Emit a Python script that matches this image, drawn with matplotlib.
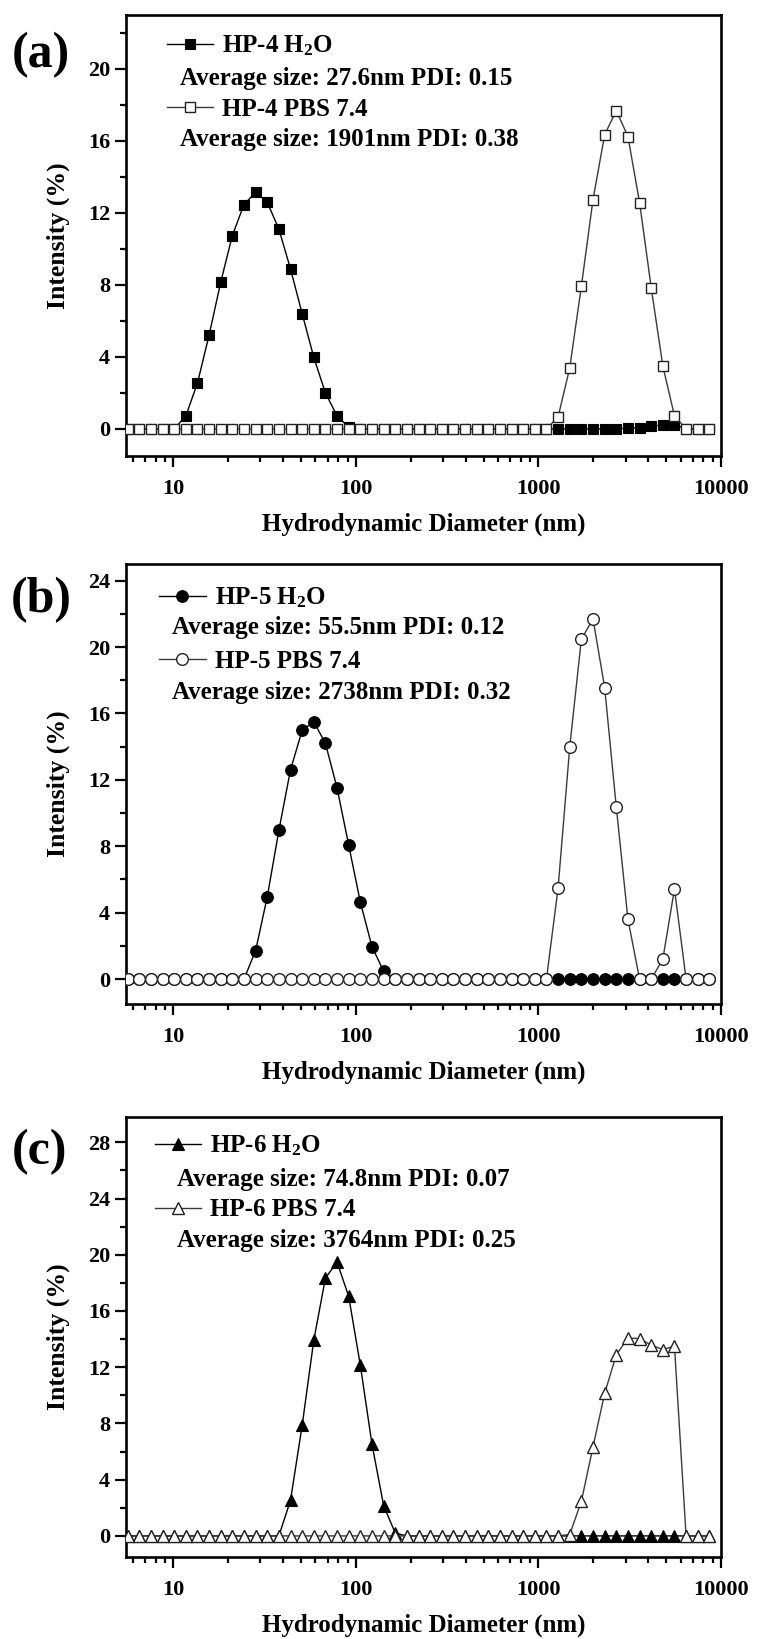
import matplotlib
matplotlib.use("Agg")
import matplotlib.pyplot as plt
from matplotlib.ticker import FixedLocator, FixedFormatter, LogLocator, NullFormatter, MultipleLocator

plt.rcParams['font.family'] = ['Liberation Serif', 'DejaVu Serif']
plt.rcParams['font.weight'] = 'bold'
plt.rcParams['mathtext.fontset'] = 'custom'
plt.rcParams['mathtext.rm'] = 'Liberation Serif:bold'
plt.rcParams['mathtext.bf'] = 'Liberation Serif:bold'
plt.rcParams['mathtext.it'] = 'Liberation Serif:bold:italic'

# ---- data -------------------------------------------------------------
diameter_nm = [5.615, 6.503, 7.531, 8.721, 10.10, 11.70, 13.54, 15.69, 18.17, 21.04,
               24.36, 28.21, 32.67, 37.84, 43.82, 50.75, 58.77, 68.06, 78.82, 91.28,
               105.7, 122.4, 141.8, 164.2, 190.1, 220.2, 255.0, 295.3, 342.0, 396.1,
               458.7, 531.2, 615.1, 712.4, 825.0, 955.4, 1106, 1281, 1484, 1718,
               1990, 2305, 2669, 3091, 3580, 4145, 4801, 5560, 6439, 7456, 8635]

hp4_h2o = [0, 0, 0, 0, 0, 0.73, 2.54, 5.22, 8.16, 10.75,
           12.47, 13.15, 12.6, 11.1, 8.89, 6.41, 3.98, 2.0, 0.73, 0.1,
           0, 0, 0, 0, 0, 0, 0, 0, 0, 0,
           0, 0, 0, 0, 0, 0, 0, 0, 0, 0,
           0, 0, 0.02, 0.04, 0.08, 0.15, 0.22, 0.25, 0, 0, 0]
hp4_pbs = [0, 0, 0, 0, 0, 0, 0, 0, 0, 0,
           0, 0, 0, 0, 0, 0, 0, 0, 0, 0,
           0, 0, 0, 0, 0, 0, 0, 0, 0, 0,
           0, 0, 0, 0, 0, 0, 0, 0.67, 3.4, 7.93,
           12.75, 16.35, 17.69, 16.25, 12.58, 7.86, 3.5, 0.73, 0, 0, 0]

hp5_h2o = [0, 0, 0, 0, 0, 0, 0, 0, 0, 0,
           0, 1.71, 4.95, 8.96, 12.61, 14.98, 15.5, 14.2, 11.51, 8.07,
           4.64, 1.96, 0.47, 0, 0, 0, 0, 0, 0, 0,
           0, 0, 0, 0, 0, 0, 0, 0, 0, 0,
           0, 0, 0, 0, 0, 0, 0, 0, 0, 0, 0]
hp5_pbs = [0, 0, 0, 0, 0, 0, 0, 0, 0, 0,
           0, 0, 0, 0, 0, 0, 0, 0, 0, 0,
           0, 0, 0, 0, 0, 0, 0, 0, 0, 0,
           0, 0, 0, 0, 0, 0, 0, 5.49, 13.99, 20.47,
           21.69, 17.56, 10.36, 3.61, 0, 0, 1.2, 5.43, 0, 0, 0]

hp6_h2o = [0, 0, 0, 0, 0, 0, 0, 0, 0, 0,
           0, 0, 0, 0, 2.54, 7.86, 13.92, 18.34, 19.48, 17.04,
           12.15, 6.54, 2.16, 0.2, 0, 0, 0, 0, 0, 0,
           0, 0, 0, 0, 0, 0, 0, 0, 0, 0,
           0, 0, 0, 0, 0, 0, 0, 0, 0, 0, 0]
hp6_pbs = [0, 0, 0, 0, 0, 0, 0, 0, 0, 0,
           0, 0, 0, 0, 0, 0, 0, 0, 0, 0,
           0, 0, 0, 0, 0, 0, 0, 0, 0, 0,
           0, 0, 0, 0, 0, 0, 0, 0, 0.1, 2.46,
           6.34, 10.14, 12.88, 14.08, 14.03, 13.57, 13.26, 13.49, 0, 0, 0]

x_ticks = [10, 100, 1000, 10000]
x_tick_labels = ['10', '100', '1000', '10000']

panel_letters = ['(a)', '(b)', '(c)']
names = ['HP-4', 'HP-5', 'HP-6']
avg_h2o = ['Average size: 27.6nm PDI: 0.15', 'Average size: 55.5nm PDI: 0.12', 'Average size: 74.8nm PDI: 0.07']
avg_pbs = ['Average size: 1901nm PDI: 0.38', 'Average size: 2738nm PDI: 0.32', 'Average size: 3764nm PDI: 0.25']
h2o_series = [hp4_h2o, hp5_h2o, hp6_h2o]
pbs_series = [hp4_pbs, hp5_pbs, hp6_pbs]
y_tops = [23, 25, 29.8]
markers = ['s', 'o', '^']
marker_sizes = [7.6, 8.4, 9.0]

# ---- layout (pixels) --------------------------------------------------
W, H = 758, 1639
fig = plt.figure(figsize=(W / 100, H / 100), dpi=100)
fig.patch.set_facecolor('white')

boxes = [(126, 15, 721, 456), (126, 564, 721, 1004), (126, 1117, 721, 1557)]
letter_pos = [(41, 55), (41, 600), (40, 1152)]
legend_anchor = [(0.069, 0.958), (0.056, 0.951), (0.049, 0.962)]
avg_x = [0.091, 0.078, 0.086]
avg_y = [(0.857, 0.718), (0.855, 0.708), (0.859, 0.719)]

for k in range(3):
    l, t, r, b = boxes[k]
    ax = fig.add_axes([l / W, 1 - b / H, (r - l) / W, (b - t) / H])
    ln1, = ax.plot(diameter_nm, h2o_series[k], color='black', lw=1.0,
                   marker=markers[k], ms=marker_sizes[k], mfc='black', mec='black',
                   mew=0.8, zorder=3, clip_on=True)
    ln2, = ax.plot(diameter_nm, pbs_series[k], color='#3a3a3a', lw=1.0,
                   marker=markers[k], ms=marker_sizes[k], mfc='white', mec='#222222',
                   mew=1.0, zorder=4, clip_on=True)
    ax.set_xscale('log')
    ax.set_xlim(5.5, 10000)
    ax.set_ylim(-1.5, y_tops[k])
    ax.xaxis.set_major_locator(FixedLocator(x_ticks))
    ax.xaxis.set_major_formatter(FixedFormatter(x_tick_labels))
    ax.xaxis.set_minor_locator(LogLocator(base=10, subs=range(2, 10), numticks=20))
    ax.xaxis.set_minor_formatter(NullFormatter())
    ax.yaxis.set_major_locator(MultipleLocator(4))
    ax.yaxis.set_minor_locator(MultipleLocator(2))
    ax.tick_params(which='both', direction='out', top=False, right=False, width=1.6)
    ax.tick_params(which='major', length=8, labelsize=16)
    ax.tick_params(axis='x', which='major', pad=8.3)
    ax.tick_params(axis='y', which='major', pad=3.5)
    ax.tick_params(which='minor', length=4.5)
    for lab in ax.get_xticklabels() + ax.get_yticklabels():
        lab.set_fontweight('bold')
    for sp in ax.spines.values():
        sp.set_linewidth(1.9)
    ax.set_xlabel('Hydrodynamic Diameter (nm)', fontsize=18, fontweight='bold', labelpad=10)
    ax.set_ylabel('Intensity (%)', fontsize=18.5, fontweight='bold', labelpad=13)

    leg = ax.legend([ln1, ln2], [names[k] + ' H$_2$O', names[k] + ' PBS 7.4'],
                    loc='upper left', bbox_to_anchor=legend_anchor[k], frameon=False,
                    borderpad=0, borderaxespad=0, handlelength=1.85, handletextpad=0.36,
                    labelspacing=1.6, numpoints=1, prop={'size': 18, 'weight': 'bold'})
    ax.text(avg_x[k], avg_y[k][0], avg_h2o[k], transform=ax.transAxes, fontsize=18,
            fontweight='bold', va='center', ha='left')
    ax.text(avg_x[k], avg_y[k][1], avg_pbs[k], transform=ax.transAxes, fontsize=18,
            fontweight='bold', va='center', ha='left')

    lx, ly = letter_pos[k]
    fig.text(lx / W, 1 - ly / H, panel_letters[k], fontsize=36, fontweight='bold',
             ha='center', va='center')

fig.savefig('out.png', dpi=100, facecolor='white')
